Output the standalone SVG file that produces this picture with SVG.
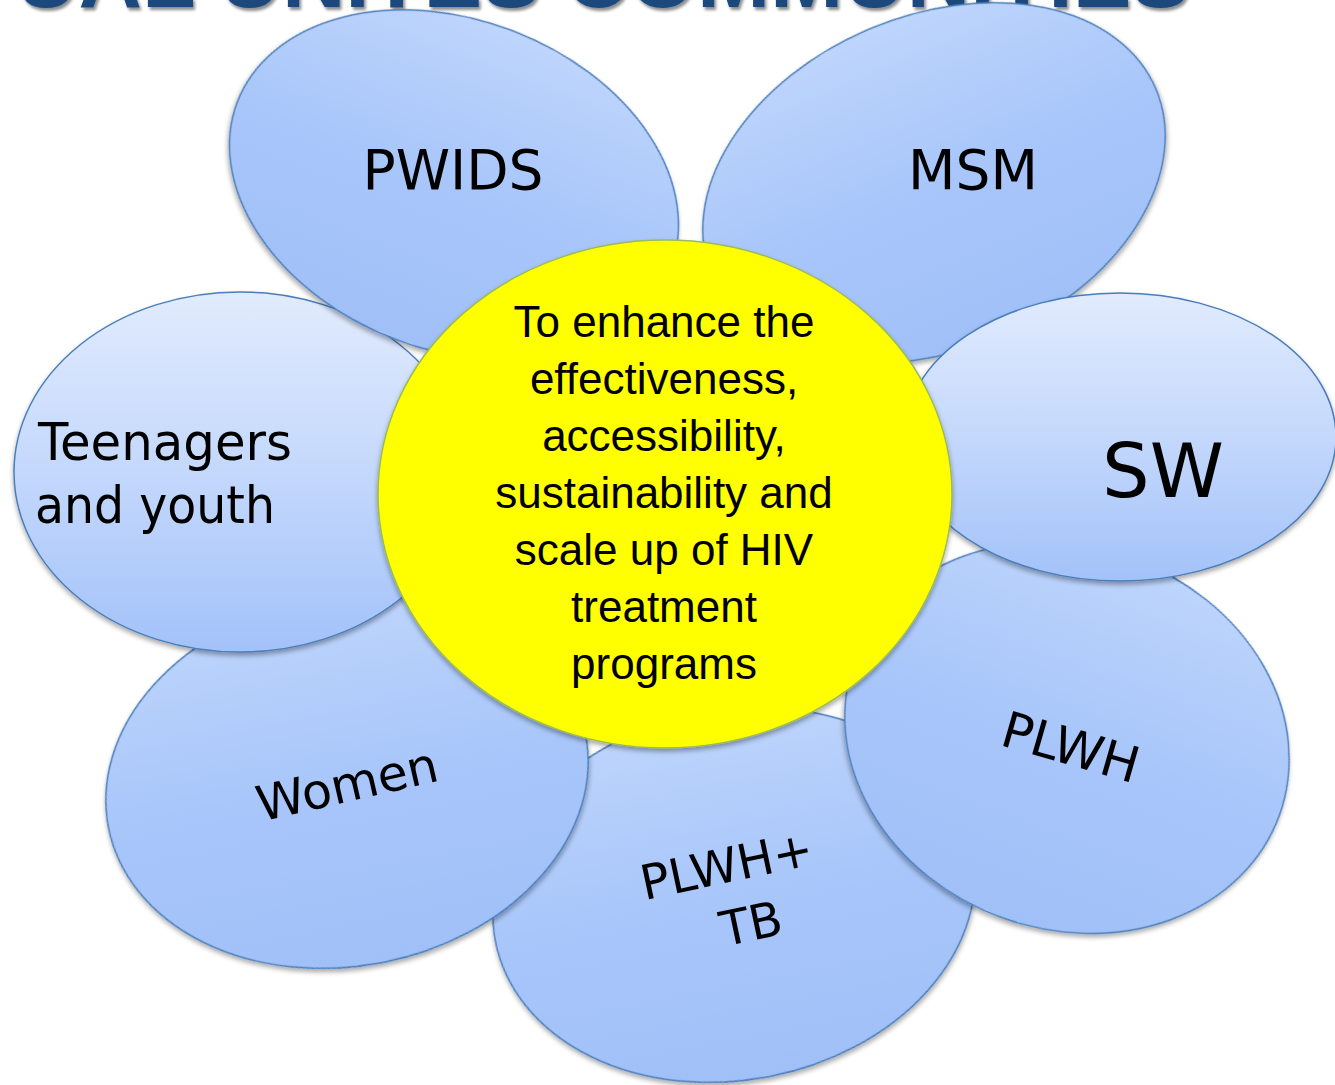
<svg xmlns="http://www.w3.org/2000/svg" width="1335" height="1085" viewBox="0 0 1335 1085">
<defs>
  <linearGradient id="gLight" x1="0" y1="0" x2="0" y2="1">
    <stop offset="0" stop-color="#E1EBFD"/>
    <stop offset="0.45" stop-color="#C7DAFC"/>
    <stop offset="1" stop-color="#A3C2F9"/>
  </linearGradient>
  <linearGradient id="gPetal" x1="0" y1="0" x2="0" y2="1">
    <stop offset="0" stop-color="#BED5FC"/>
    <stop offset="0.5" stop-color="#A8C6FA"/>
    <stop offset="1" stop-color="#A0C0F8"/>
  </linearGradient>
  <filter id="shadow" x="-10%" y="-10%" width="120%" height="125%">
    <feGaussianBlur in="SourceAlpha" stdDeviation="2.5"/>
    <feOffset dx="0" dy="3" result="b"/>
    <feComponentTransfer><feFuncA type="linear" slope="0.35"/></feComponentTransfer>
    <feMerge><feMergeNode/><feMergeNode in="SourceGraphic"/></feMerge>
  </filter>
  <filter id="tshadow" x="-5%" y="-20%" width="110%" height="160%">
    <feGaussianBlur in="SourceAlpha" stdDeviation="1.5"/>
    <feOffset dx="2" dy="3"/>
    <feComponentTransfer><feFuncA type="linear" slope="0.45"/></feComponentTransfer>
    <feMerge><feMergeNode/><feMergeNode in="SourceGraphic"/></feMerge>
  </filter>
</defs>
<style>
  .petal { fill: url(#gPetal); stroke: #4A7EBB; stroke-width: 1.5; filter: url(#shadow); }
  .petal.light { fill: url(#gLight); }
  .lbl { font-family: "Comic Sans MS", "DejaVu Sans", sans-serif; fill: #000; }
  .ctr { font-family: "Liberation Sans", Arial, sans-serif; font-size: 44px; fill: #000; text-anchor: middle; }
  .title { font-family: "Liberation Sans", Arial, sans-serif; font-weight: bold; font-size: 88px; fill: #1F497D; filter: url(#tshadow); }
</style>
<rect width="1335" height="1085" fill="#FFFFFF"/>

<text class="title" x="15" y="7" textLength="1175" lengthAdjust="spacingAndGlyphs">UAL UNITES COMMUNITIES</text>

<g id="connectors"></g>

<g id="node-plwh-tb">
  <ellipse class="petal" cx="734" cy="895" rx="243" ry="185" transform="rotate(-11 734 895)"/>
  <g transform="translate(730 882) rotate(-12)">
    <text class="lbl" x="0" y="0" font-size="48" text-anchor="middle">PLWH+</text>
    <text class="lbl" x="12" y="62" font-size="48" text-anchor="middle">TB</text>
  </g>
</g>

<g id="node-women">
  <ellipse class="petal" cx="347" cy="781" rx="243" ry="185" transform="rotate(-11 347 781)"/>
  <text class="lbl" x="0" y="0" font-size="49" text-anchor="middle" transform="translate(351 801) rotate(-13)">Women</text>
</g>

<g id="node-plwh">
  <ellipse class="petal" cx="1067" cy="738" rx="226" ry="191" transform="rotate(20 1067 738)"/>
  <text class="lbl" x="0" y="0" font-size="50" text-anchor="middle" transform="translate(1066 764) rotate(16)">PLWH</text>
</g>

<g id="node-msm">
  <ellipse class="petal" cx="934" cy="183" rx="241" ry="167" transform="rotate(-23 934 183)"/>
  <text class="lbl" x="973" y="189" font-size="55" text-anchor="middle">MSM</text>
</g>

<g id="node-teenagers">
  <ellipse class="petal light" cx="240" cy="472" rx="226" ry="180"/>
  <text class="lbl" x="38" y="460" font-size="51" textLength="254" lengthAdjust="spacingAndGlyphs">Teenagers</text>
  <text class="lbl" x="35" y="523" font-size="51" textLength="240" lengthAdjust="spacingAndGlyphs">and youth</text>
</g>

<g id="node-sw">
  <ellipse class="petal light" cx="1120" cy="437" rx="216" ry="144"/>
  <text class="lbl" x="1163" y="497" font-size="75" text-anchor="middle">SW</text>
</g>

<g id="node-pwids">
  <ellipse class="petal" cx="454" cy="185" rx="232" ry="165" transform="rotate(21 454 185)"/>
  <text class="lbl" x="453" y="189" font-size="55" text-anchor="middle">PWIDS</text>
</g>

<g id="node-center">
  <ellipse cx="665" cy="494" rx="287" ry="254" fill="#FFFF00" stroke="#9BBB59" stroke-width="1.5" filter="url(#shadow)"/>
  <text class="ctr" x="664" y="337">To enhance the</text>
  <text class="ctr" x="664" y="394">effectiveness,</text>
  <text class="ctr" x="664" y="451">accessibility,</text>
  <text class="ctr" x="664" y="508">sustainability and</text>
  <text class="ctr" x="664" y="565">scale up of HIV</text>
  <text class="ctr" x="664" y="622">treatment</text>
  <text class="ctr" x="664" y="679">programs</text>
</g>
</svg>
